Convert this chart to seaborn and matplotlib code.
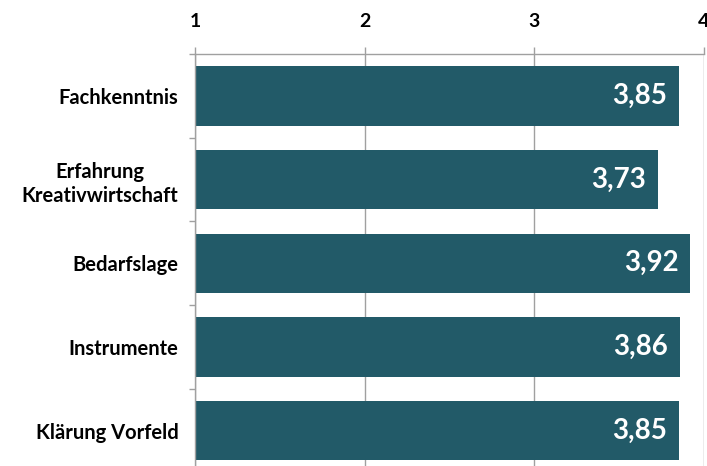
import matplotlib
matplotlib.use("Agg")
import matplotlib.pyplot as plt
import seaborn as sns
import pandas as pd

categories = ["Fachkenntnis", "Erfahrung\nKreativwirtschaft", "Bedarfslage", "Instrumente", "Klärung Vorfeld"]
values = [3.85, 3.73, 3.92, 3.86, 3.85]
value_labels = ["3,85", "3,73", "3,92", "3,86", "3,85"]
x_ticks = [1, 2, 3, 4]

sns.set_theme(style="white")
plt.rcParams['font.family'] = ['Lato', 'DejaVu Sans']

df = pd.DataFrame({"cat": categories, "val": values})

fig = plt.figure(figsize=(7.07, 4.66), dpi=100)
H = 466.0
W = 707.0
left = 195 / W
right = 704 / W
top = 54
bottom = 472.5
ax = fig.add_axes([left, (H - bottom) / H, right - left, (bottom - top) / H])

bar_color = "#225A68"
sns.barplot(data=df, y="cat", x="val", orient="h", color=bar_color, width=0.71,
            saturation=1, ax=ax, edgecolor="none")

ax.set_xlim(1, 4)
ax.set_ylim(len(categories) - 0.5, -0.5)
ax.set_xticks(x_ticks)
ax.set_xticklabels([str(t) for t in x_ticks])
ax.xaxis.tick_top()
ax.set_xlabel("")
ax.set_ylabel("")
ax.set_axisbelow(True)
ax.grid(axis="x", color="#A0A0A0", linewidth=1.0)
ax.grid(axis="y", visible=False)

for s in ["right", "bottom"]:
    ax.spines[s].set_visible(False)
for s in ["top", "left"]:
    ax.spines[s].set_visible(True)
    ax.spines[s].set_color("#A0A0A0")
    ax.spines[s].set_linewidth(1.0)

ax.tick_params(axis="x", which="major", top=True, bottom=False, length=5, width=1,
               color="#A0A0A0", pad=12, labelsize=14, labelcolor="black")
for lbl in ax.get_xticklabels():
    lbl.set_fontweight("bold")

ax.set_yticks(range(len(categories)))
ax.set_yticklabels(categories)
ax.tick_params(axis="y", which="major", left=True, length=0, pad=12, labelsize=14.5, labelcolor="black")
ax.set_yticks([i + 0.5 for i in range(-1, len(categories))], minor=True)
ax.tick_params(axis="y", which="minor", left=True, length=4, width=1, color="#A0A0A0")
for lbl in ax.get_yticklabels():
    lbl.set_fontweight("bold")
    lbl.set_multialignment("center")
    lbl.set_linespacing(1.25)

for i, (v, t) in enumerate(zip(values, value_labels)):
    ax.text(v - 0.07, i, t, ha="right", va="center", color="white",
            fontsize=20, fontweight="bold")

fig.savefig("out.png", dpi=100)
